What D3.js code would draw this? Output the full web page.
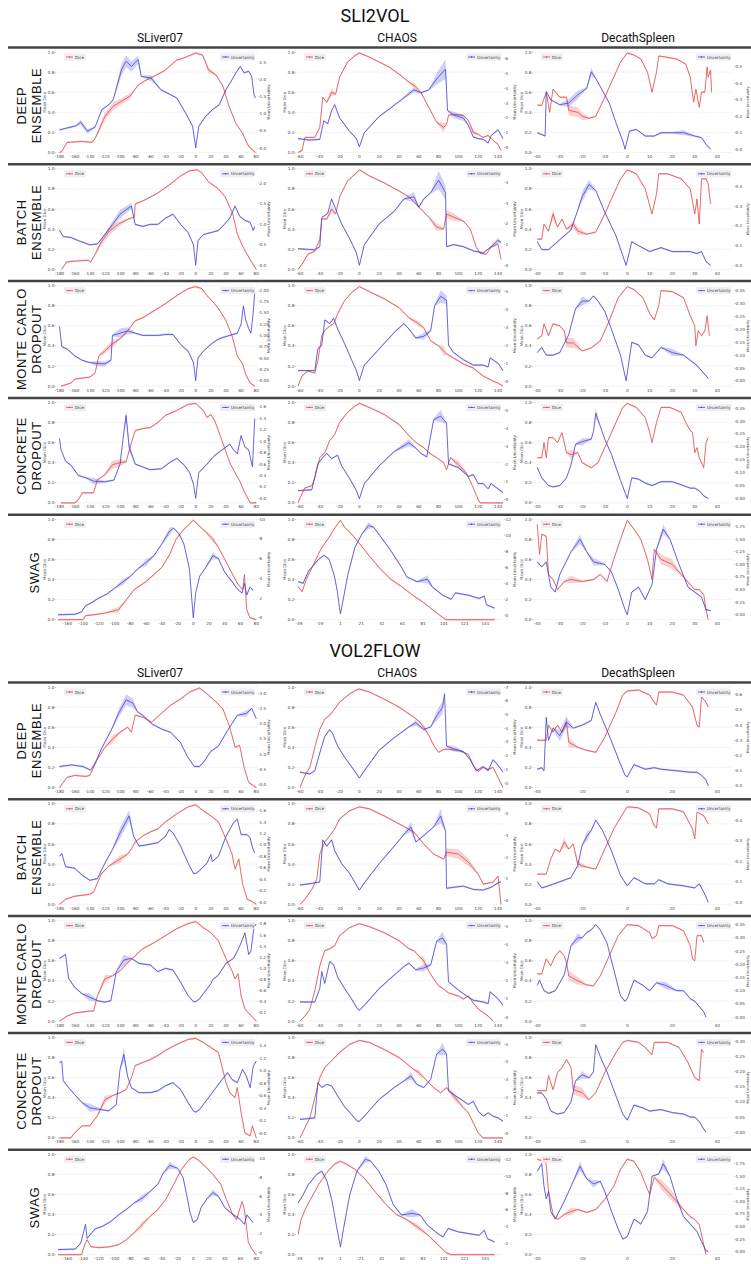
<!DOCTYPE html>
<meta charset="utf-8">
<style>
    body { margin: 0; background: #fff; }
    svg { display: block; }
</style>
<body>
<script src="https://d3js.org/d3.v7.min.js"></script>
<script>
// ---- labels ----
var sections = ["SLI2VOL", "VOL2FLOW"];
var datasets = ["SLiver07", "CHAOS", "DecathSpleen"];
var methods = [["DEEP", "ENSEMBLE"], ["BATCH", "ENSEMBLE"], ["MONTE CARLO", "DROPOUT"], ["CONCRETE", "DROPOUT"], ["SWAG"]];

// ---- x tick labels ----
var ticksSliver = [-180, -160, -140, -120, -100, -80, -60, -40, -20, 0, 20, 40, 60, 80];
var ticksSliverSwag = [-160, -140, -120, -100, -80, -60, -40, -20, 0, 20, 40, 60, 80];
var ticksChaos = [-60, -40, -20, 0, 20, 40, 60, 80, 100, 120, 140];
var ticksChaosSwag = [-39, -19, 1, 21, 41, 61, 81, 101, 121, 141];
var ticksSpleen10 = [-40, -30, -20, -10, 0, 10, 20, 30, 40];
var ticksSpleen20 = [-40, -20, 0, 20, 40];

// ---- right axis (uncertainty) limits and tick steps, rows x [SLiver07, CHAOS, DecathSpleen] ----
var uncLimitsS2V = [
    [[-0.13, 2.80], [-0.34, 6.46], [-0.02, 0.59]],
    [[-0.10, 2.36], [-0.19, 4.65], [-0.02, 0.49]],
    [[-0.12, 2.10], [-0.26, 5.30], [-0.02, 0.37]],
    [[-0.08, 1.68], [-0.19, 5.47], [-0.017, 0.372]],
    [[-0.2, 10.0], [-0.55, 12.0], [-0.10, 1.90]]
];
var uncLimitsV2F = [
    [[-0.10, 3.20], [-0.32, 7.0], [-0.01, 0.65]],
    [[-0.04, 1.72], [-0.19, 4.47], [-0.01, 0.48]],
    [[0.05, 1.86], [-0.22, 5.30], [-0.015, 0.365]],
    [[-0.07, 1.53], [-0.24, 5.37], [-0.019, 0.314]],
    [[-0.25, 10.5], [0.7, 12.6], [-0.06, 1.94]]
];
var uncStepsS2V = [[0.5, 1, 0.1], [0.5, 1, 0.1], [0.25, 1, 0.05], [0.2, 1, 0.05], [2, 2, 0.25]];
var uncStepsV2F = [[0.5, 1, 0.1], [0.2, 1, 0.1], [0.2, 1, 0.05], [0.2, 1, 0.05], [2, 2, 0.25]];

// ---- series: [slice, mean, half band] ----
// SLI2VOL
var s2v_de_sliver_dice = [[-180,0],[-177,0.01],[-170,0.10],[-150,0.11],[-137,0.10],[-133,0.14],[-128,0.22,0.02],[-120,0.36,0.03],[-109,0.46,0.03],[-98,0.51,0.02],[-87,0.56,0.02],[-81,0.62],[-76,0.67],[-68,0.71],[-55,0.76],[-42,0.81],[-25,0.92],[-16,0.94],[0,0.99],[9,0.97],[17,0.82,0.02],[27,0.77],[36,0.66],[44,0.46],[53,0.29],[62,0.19],[70,0.06],[79,0.0]];
var s2v_de_sliver_unc = [[-180,0.53],[-158,0.65],[-152,0.75,0.05],[-143,0.49,0.04],[-133,0.61],[-124,1.12],[-115,1.26],[-109,1.41],[-98,2.29,0.15],[-92,2.53,0.15],[-85,2.38,0.12],[-76,2.58,0.1],[-72,2.09],[-59,2.04,0.06],[-46,1.70],[-25,1.46],[-12,0.97],[-4,0.63],[0,0.0],[4,0.63],[13,0.92],[22,1.12],[31,1.26],[40,1.70],[48,1.99],[53,2.19],[59,2.38],[64,2.19],[70,2.24],[74,2.09],[77,1.56],[79,1.46]];
var s2v_de_chaos_dice = [[-62,0],[-58,0.02],[-55,0.15],[-45,0.15],[-40,0.25],[-37,0.55],[-33,0.50],[-28,0.60,0.03],[-24,0.58],[-20,0.75],[-12,0.90],[-5,0.96],[0,0.99],[10,0.95],[20,0.90],[30,0.85],[40,0.78],[50,0.70],[56,0.66,0.02],[62,0.60],[70,0.45],[78,0.30],[85,0.25,0.04],[88,0.28],[90,0.37],[95,0.38],[105,0.37],[110,0.32],[115,0.20,0.02],[120,0.18],[125,0.15],[130,0.17],[135,0.12],[140,0.08],[143,0.02]];
var s2v_de_chaos_unc = [[-62,0.6],[-50,0.5],[-40,0.55],[-36,1.8],[-32,1.6],[-28,2.5],[-25,2.9],[-20,2.0],[-10,1.1],[-3,0.6],[0,0.05],[5,1.0],[20,2.1],[40,3.1],[55,3.9,0.1],[62,3.7],[70,3.9],[80,4.8,0.4],[87,5.3,0.6],[89,2.5],[95,2.2,0.15],[105,2.0,0.15],[110,1.5],[115,0.7],[120,0.6],[125,0.55],[130,0.3],[133,0.8],[140,1.2],[145,0.6]];
var s2v_de_spleen_dice = [[-40,0.47],[-38,0.47],[-36,0.60],[-34.5,0.40],[-33,0.63],[-30,0.55],[-27,0.55],[-26,0.42,0.04],[-22,0.40,0.04],[-20,0.36,0.03],[-17,0.34],[-14,0.36],[-10,0.55],[-6,0.75],[-3,0.90],[0,0.99],[3,0.97],[6,0.93],[9,0.80],[11,0.60],[13,0.80],[14,0.96],[17,0.95],[22,0.93],[26,0.88],[28,0.75],[29.5,0.50],[30.5,0.63],[32,0.45],[33,0.60],[34.5,0.60],[35.5,0.85],[36,0.75],[37,0.82],[37.5,0.60]];
var s2v_de_spleen_unc = [[-40,0.10],[-36.5,0.08],[-36,0.35],[-34,0.30],[-30,0.27],[-26,0.28,0.02],[-22,0.33,0.02],[-18,0.37],[-16,0.47,0.02],[-14,0.43],[-12,0.38],[-8,0.28],[-5,0.16],[-2,0.05],[-1,0.0],[1,0.11],[4,0.12],[8,0.08],[12,0.08],[15,0.10],[20,0.10],[25,0.10,0.01],[30,0.08],[33,0.07],[35,0.03],[37,0.0]];

var s2v_be_sliver_dice = [[-177,0],[-171,0.07],[-164,0.08],[-142,0.09],[-139,0.07],[-133,0.15],[-124,0.28,0.03],[-114,0.38,0.03],[-102,0.45,0.02],[-89,0.50],[-81,0.52],[-80,0.65],[-70,0.68],[-52,0.75],[-33,0.85],[-20,0.93],[-8,0.98],[2,0.99],[8,0.96],[17,0.87],[30,0.80],[39,0.72],[49,0.55],[55,0.35],[64,0.20],[74,0.07],[80,0.0]];
var s2v_be_sliver_unc = [[-180,0.86],[-175,0.70],[-165,0.68],[-155,0.60],[-140,0.50],[-130,0.52],[-120,0.75],[-110,1.0,0.05],[-100,1.25,0.08],[-85,1.45,0.05],[-80,1.0],[-70,0.95],[-60,1.0],[-50,1.0],[-40,1.15],[-30,1.25],[-20,1.0],[-10,0.8],[-3,0.5],[0,0.0],[3,0.6],[10,0.75],[20,0.8],[30,0.85],[38,1.0],[45,1.15],[52,1.45],[58,1.2],[65,1.1],[72,1.05],[76,0.85],[78,0.95]];
var s2v_be_chaos_dice = [[-62,0],[-58,0.05],[-52,0.15],[-45,0.18],[-40,0.30],[-38,0.50],[-33,0.50],[-28,0.60,0.03],[-24,0.55],[-20,0.72],[-12,0.88],[-4,0.95],[0,0.99],[10,0.93],[25,0.86],[40,0.78],[50,0.72],[60,0.62],[70,0.52],[78,0.42,0.03],[85,0.40],[88,0.55,0.03],[95,0.52,0.03],[105,0.48],[112,0.40],[118,0.22],[122,0.16],[128,0.15],[133,0.22],[140,0.25],[143,0.10]];
var s2v_be_chaos_unc = [[-62,0.8],[-45,0.75],[-40,0.9],[-38,2.3],[-32,2.5],[-28,3.2],[-24,2.7],[-18,2.0],[-10,1.3],[-3,0.6],[0,0.0],[5,1.0],[20,2.0],[35,2.6],[45,3.2],[55,3.3,0.2],[60,2.8],[65,3.2],[72,3.5],[80,4.1,0.4],[87,3.5,0.3],[88,0.9],[95,1.0],[105,0.9],[115,0.7],[125,0.6],[133,0.9],[140,1.2,0.1],[143,1.1]];
var s2v_be_spleen_dice = [[-40,0.30],[-38,0.30],[-37,0.45],[-35,0.38],[-33,0.55,0.04],[-31,0.42],[-29,0.50],[-27,0.40],[-24,0.45,0.03],[-22,0.38,0.03],[-18,0.35],[-14,0.37],[-10,0.55],[-6,0.75],[-3,0.90],[0,0.99],[4,0.95],[8,0.80],[11,0.55],[13,0.75],[14,0.95],[18,0.95],[24,0.90],[28,0.80],[30,0.55],[31,0.70],[32,0.45],[33,0.90],[35,0.90],[36,0.85],[37,0.65]];
var s2v_be_spleen_unc = [[-40,0.12],[-38,0.08],[-35,0.08],[-30,0.13],[-25,0.18],[-22,0.28],[-20,0.35,0.02],[-17,0.41,0.02],[-14,0.38],[-10,0.27],[-5,0.15],[-2,0.05],[-0.5,0.0],[2,0.12],[5,0.10],[10,0.07],[15,0.09],[20,0.07],[25,0.07],[28,0.07],[31,0.06],[33,0.07],[35,0.02],[37,0.0]];

var s2v_mc_sliver_dice = [[-178,0],[-165,0.03],[-160,0.07],[-140,0.09],[-133,0.13],[-128,0.30],[-120,0.35,0.02],[-110,0.42,0.03],[-100,0.47],[-90,0.55],[-80,0.65],[-70,0.68],[-55,0.75],[-40,0.82],[-25,0.90],[-10,0.97],[0,0.99],[8,0.97],[15,0.90],[25,0.82],[32,0.75],[40,0.65],[48,0.50],[55,0.30],[62,0.22],[66,0.12],[72,0.03],[78,0.0]];
var s2v_mc_sliver_unc = [[-180,1.20],[-177,0.75],[-170,0.70],[-160,0.55],[-150,0.45],[-140,0.40],[-130,0.38,0.04],[-120,0.37,0.04],[-112,0.45],[-110,1.00],[-100,1.05,0.08],[-90,1.10,0.06],[-80,1.05],[-70,1.0],[-60,1.0],[-50,1.0],[-40,1.02],[-30,1.02],[-20,0.80],[-10,0.65],[-3,0.40],[0,0.0],[3,0.50],[10,0.65],[20,0.80],[28,0.90],[35,0.95],[45,1.00],[55,1.05],[60,1.25],[63,1.65],[66,1.35],[70,1.15],[73,1.05],[76,1.50],[78,1.95]];
var s2v_mc_chaos_dice = [[-62,0],[-58,0.10],[-52,0.15],[-45,0.13],[-42,0.25],[-38,0.50],[-35,0.55],[-30,0.60],[-26,0.62],[-22,0.72],[-15,0.85],[-8,0.93],[0,0.99],[10,0.94],[25,0.87],[40,0.78],[50,0.68],[60,0.62,0.02],[65,0.58],[72,0.45],[80,0.40],[85,0.35,0.04],[88,0.32],[95,0.28],[105,0.22],[115,0.18],[125,0.10],[135,0.05],[140,0.03],[145,0.0]];
var s2v_mc_chaos_unc = [[-62,0.6],[-45,0.6],[-42,1.8],[-38,2.0],[-35,3.4],[-30,3.2],[-26,3.5],[-22,2.9],[-15,2.1],[-8,1.2],[-3,0.6],[0,0.05],[5,0.9],[20,1.8],[35,2.7],[45,3.2],[50,2.9],[57,2.4],[65,2.5,0.15],[72,2.8],[76,4.2],[82,4.7,0.3],[88,4.5,0.2],[90,2.0],[95,1.6],[105,1.2],[115,0.9],[125,0.9],[130,0.8],[132,1.3],[140,1.0],[145,0.6]];
var s2v_mc_spleen_dice = [[-40,0.47],[-38,0.50],[-37,0.62],[-35,0.50],[-33,0.62],[-30,0.60],[-28,0.55],[-27,0.43,0.04],[-24,0.43,0.04],[-20,0.35],[-16,0.38],[-12,0.45],[-8,0.65],[-4,0.88],[0,0.99],[3,0.96],[7,0.88],[10,0.72],[12,0.66],[14,0.80],[15,0.95],[20,0.94],[25,0.88],[28,0.70],[30,0.60],[30.5,0.40],[31.5,0.55],[33,0.50],[34.5,0.55],[35.5,0.70],[36.5,0.50]];
var s2v_mc_spleen_unc = [[-40,0.11],[-38,0.13],[-36,0.10],[-33,0.10],[-30,0.11],[-26,0.18],[-23,0.28],[-20,0.31,0.015],[-17,0.31],[-15,0.33],[-13,0.31],[-10,0.27],[-7,0.20],[-3,0.10],[-0.5,0.0],[2,0.15],[5,0.14],[8,0.10],[11,0.09],[15,0.13],[20,0.11,0.01],[25,0.10],[28,0.08],[31,0.06],[34,0.03],[36,0.01]];

var s2v_cd_sliver_dice = [[-178,0],[-160,0],[-155,0.03],[-150,0.10],[-135,0.10],[-130,0.23],[-120,0.28],[-110,0.38,0.03],[-100,0.40,0.03],[-92,0.41],[-85,0.60],[-80,0.72],[-70,0.74],[-60,0.75],[-50,0.80],[-40,0.87],[-25,0.92],[-10,0.98],[0,0.99],[10,0.92],[15,0.85],[20,0.88],[25,0.82],[30,0.72],[38,0.55],[45,0.40],[52,0.30],[58,0.22],[65,0.10],[72,0.0],[80,0.0]];
var s2v_cd_sliver_unc = [[-180,1.05],[-178,0.85],[-172,0.65],[-165,0.58],[-155,0.40],[-145,0.36],[-135,0.30,0.04],[-120,0.29],[-108,0.32],[-100,0.60],[-95,1.15],[-92,1.45,0.1],[-88,0.90,0.06],[-80,0.60],[-70,0.55],[-60,0.50],[-45,0.52],[-35,0.62],[-25,0.70],[-15,0.58],[-8,0.45],[-3,0.25],[0,0.0],[4,0.45],[15,0.60],[25,0.75],[35,0.85],[45,0.95],[50,0.85],[55,0.78],[60,1.10],[65,0.90],[70,0.85],[75,0.55],[78,1.40]];
var s2v_cd_chaos_dice = [[-62,0],[-60,0.05],[-55,0.15],[-48,0.17],[-45,0.25],[-40,0.45],[-35,0.50],[-30,0.62],[-25,0.68],[-20,0.80],[-12,0.90],[-5,0.96],[0,0.99],[10,0.95],[25,0.88],[40,0.78],[50,0.67],[55,0.62],[60,0.58],[65,0.55],[70,0.50],[78,0.45],[85,0.40],[88,0.33],[92,0.45],[100,0.38,0.03],[108,0.30],[115,0.15],[120,0.03],[122,0.0],[145,0.0]];
var s2v_cd_chaos_unc = [[-62,0.5],[-48,0.55],[-42,2.0],[-38,2.3],[-33,2.6],[-28,2.3],[-22,2.5],[-18,1.9],[-10,1.2],[-3,0.5],[0,0.05],[5,0.9],[20,1.9],[35,2.7],[50,3.2,0.15],[57,2.9],[62,2.6],[68,2.4],[75,4.5],[82,4.7,0.3],[88,4.3],[90,2.0],[100,1.8],[110,1.3],[115,1.4],[120,0.9],[125,0.9],[130,0.6],[133,0.9],[140,0.6],[145,0.4]];
var s2v_cd_spleen_dice = [[-40,0.45],[-38,0.45],[-37,0.60],[-36,0.45],[-35,0.65],[-33,0.65],[-31,0.60],[-29,0.70],[-27,0.50],[-25,0.48,0.04],[-22,0.50],[-20,0.40],[-16,0.35],[-13,0.40],[-9,0.60],[-5,0.80],[-2,0.95],[0,0.99],[4,0.95],[8,0.85],[10,0.70],[11,0.60],[13,0.80],[15,0.95],[19,0.95],[24,0.90],[26,0.80],[28,0.72],[29,0.70],[30,0.50],[31,0.55],[32,0.45],[34,0.35],[35,0.60],[36,0.65]];
var s2v_cd_spleen_unc = [[-40,0.12],[-38,0.08],[-35,0.05],[-33,0.045],[-30,0.05],[-27,0.08],[-25,0.13],[-23,0.21],[-20,0.22,0.01],[-16,0.23],[-15,0.26],[-14,0.33,0.015],[-12,0.28],[-10,0.23],[-7,0.17],[-3,0.07],[0,0.0],[2,0.08],[5,0.075],[8,0.06],[11,0.05],[15,0.065],[20,0.065],[25,0.05],[28,0.04],[30,0.04],[32,0.03],[34,0.01],[36,0.0]];

var s2v_swag_sliver_dice = [[-172,0],[-140,0],[-137,0.04],[-125,0.05],[-110,0.07],[-95,0.10,0.02],[-85,0.20],[-75,0.30],[-60,0.38],[-50,0.45],[-40,0.52],[-30,0.65],[-22,0.80],[-12,0.90],[-5,0.95],[0,0.99],[8,0.93],[15,0.88],[25,0.80,0.02],[32,0.72],[40,0.60],[50,0.45],[57,0.35],[63,0.30],[65,0.45],[68,0.10],[72,0.02],[80,0.0]];
var s2v_swag_sliver_unc = [[-172,0.3],[-150,0.35],[-142,0.6],[-137,1.2],[-130,1.5],[-120,2.0],[-110,2.4],[-100,3.0],[-90,3.6,0.2],[-80,4.2],[-70,5.0],[-60,5.6,0.25],[-50,6.3],[-40,7.5],[-30,8.8,0.3],[-25,9.1],[-18,8.5],[-12,7.5],[-5,5.0],[-2,2.0],[0,0.0],[3,2.5],[8,4.2],[15,5.0],[25,6.3,0.25],[32,6.0],[40,4.6],[50,3.6],[55,3.0],[62,2.5],[65,3.5],[68,2.3],[72,3.1],[76,2.8]];
var s2v_swag_chaos_dice = [[-40,0.33],[-36,0.28],[-32,0.40],[-25,0.55],[-18,0.70],[-10,0.82],[-4,0.92],[1,0.99],[5,0.92],[12,0.85],[20,0.75],[30,0.62],[40,0.50],[50,0.40],[60,0.33],[70,0.25],[80,0.18],[90,0.10],[100,0.02],[103,0.0],[150,0.0]];
var s2v_swag_chaos_unc = [[-40,4.2],[-35,4.0],[-30,5.5],[-20,7.0],[-15,7.5],[-10,7.0],[-5,5.0],[-2,3.0],[0,1.0],[1,0.2],[3,1.5],[8,5.0],[15,8.5],[22,10.2],[28,11.2,0.3],[33,11.0],[40,9.8],[50,8.0],[60,6.0],[65,4.8],[75,4.2],[85,4.5,0.4],[90,3.5],[100,2.5],[108,2.0],[112,2.8],[125,2.5],[135,2.1],[140,2.4],[142,1.3],[150,0.9]];
var s2v_swag_spleen_dice = [[-40,0.95],[-39,0.65],[-38,0.85],[-36,0.83],[-35,0.45],[-33,0.40],[-31,0.30],[-28,0.38],[-25,0.40,0.03],[-20,0.38],[-15,0.40],[-12,0.45],[-9,0.38],[-6,0.60],[-3,0.80],[0,0.99],[3,0.90],[6,0.80],[9,0.60],[11,0.40],[12,0.70],[15,0.60,0.04],[20,0.55,0.04],[24,0.45],[28,0.35],[30,0.30],[32,0.30],[34,0.25],[35,0.10],[36,0.0]];
var s2v_swag_spleen_unc = [[-40,1.05],[-38,0.95],[-36,1.05],[-34,0.55],[-32,0.45],[-30,0.80],[-25,1.25],[-21,1.50,0.08],[-18,1.25],[-15,1.05,0.06],[-10,1.00],[-7,0.85],[-4,0.50],[-1,0.1],[0,0.0],[2,0.45],[5,0.55],[8,0.30],[11,0.60],[13,1.30],[16,1.70,0.08],[19,1.50],[23,1.00],[27,0.55],[30,0.45],[33,0.35],[35,0.10],[37,0.08]];

// VOL2FLOW
var v2f_de_sliver_dice = [[-180,0],[-175,0.05],[-170,0.10],[-160,0.12],[-145,0.11],[-140,0.12],[-130,0.28],[-120,0.40],[-110,0.48,0.03],[-100,0.55],[-90,0.60],[-85,0.55],[-80,0.72],[-70,0.70],[-58,0.65],[-48,0.72],[-33,0.82],[-20,0.88],[-8,0.95],[5,0.99],[17,0.92],[27,0.85],[36,0.78],[45,0.60],[52,0.40],[58,0.42],[64,0.20],[70,0.05],[76,0.02],[80,0.0]];
var v2f_de_sliver_unc = [[-180,0.59],[-164,0.64],[-149,0.59],[-139,0.47],[-133,0.70],[-124,1.2],[-111,1.82],[-102,2.33,0.1],[-92,2.78,0.15],[-83,2.67,0.12],[-77,2.39],[-70,2.27],[-58,1.99],[-45,1.82],[-33,1.71],[-20,1.37],[-11,0.92],[-2,0.59],[5,0.59],[11,0.75],[20,1.09],[30,1.26],[42,1.77],[55,2.27],[67,2.33,0.08],[74,2.5],[80,2.16]];
var v2f_de_chaos_dice = [[-60,0],[-55,0.12],[-50,0.20],[-45,0.40],[-40,0.58],[-35,0.68],[-30,0.72],[-25,0.78],[-20,0.85],[-10,0.93],[-3,0.97],[0,0.98],[10,0.95],[25,0.88],[40,0.80],[55,0.70],[60,0.66],[65,0.60,0.02],[70,0.52],[75,0.42],[80,0.35],[85,0.38],[90,0.38],[100,0.37],[110,0.33],[115,0.22],[120,0.16],[125,0.20],[130,0.18],[135,0.20],[140,0.10],[145,0.0]];
var v2f_de_chaos_unc = [[-60,0.8],[-50,0.67],[-45,0.9],[-40,2.2],[-35,3.4],[-30,3.9],[-27,3.6],[-22,2.7],[-15,1.9],[-5,0.9],[0,0.37],[5,0.9],[20,2.4],[35,3.3],[50,4.1],[57,4.4,0.15],[65,3.9],[72,4.1],[78,4.9,0.3],[84,5.5,0.4],[86,6.5],[88,2.7],[95,2.5,0.15],[105,2.3],[112,1.7],[118,0.9],[125,1.2],[130,0.9],[135,1.7],[140,1.3],[145,0.8]];
var v2f_de_spleen_dice = [[-40,0.47],[-36,0.47],[-35,0.62],[-33,0.55],[-31,0.62],[-29,0.55],[-27,0.65,0.04],[-26,0.45,0.04],[-22,0.40],[-18,0.37],[-14,0.35],[-10,0.50],[-5,0.75],[-2,0.92],[0,0.96],[5,0.97],[10,0.92],[11,0.88],[13,0.82],[14,0.95],[20,0.95],[25,0.92],[29,0.80],[31,0.62],[32,0.60],[33,0.90],[35,0.85],[36,0.80]];
var v2f_de_spleen_unc = [[-40,0.11],[-38,0.12],[-37,0.10],[-36,0.45],[-35,0.30],[-33,0.38],[-30,0.33,0.03],[-27,0.42,0.03],[-24,0.38],[-20,0.40],[-16,0.43],[-14,0.55],[-12,0.47],[-8,0.33],[-4,0.18],[-1,0.07],[0,0.06],[3,0.14],[8,0.11],[12,0.12],[15,0.11],[22,0.10],[28,0.09],[31,0.09],[33,0.07],[35,0.04],[36,0.0]];

var v2f_be_sliver_dice = [[-180,0],[-172,0.05],[-160,0.08],[-140,0.10],[-135,0.12],[-125,0.30],[-115,0.38],[-100,0.45,0.03],[-90,0.50],[-85,0.55],[-80,0.62],[-70,0.68],[-60,0.72],[-50,0.75],[-40,0.82],[-25,0.90],[-10,0.97],[0,0.99],[10,0.93],[20,0.88],[30,0.82],[40,0.65],[48,0.50],[52,0.35],[57,0.45],[62,0.20],[68,0.05],[74,0.03],[80,0.0]];
var v2f_be_sliver_unc = [[-180,0.80],[-177,0.85],[-172,0.62],[-160,0.59],[-150,0.47],[-140,0.38],[-130,0.41],[-120,0.68],[-110,0.92],[-100,1.21,0.08],[-88,1.51,0.08],[-82,1.15],[-75,0.98],[-65,1.0],[-50,1.04],[-40,1.15],[-35,1.27],[-30,1.21],[-20,0.98],[-10,0.68],[-3,0.50],[0,0.50],[5,0.55],[15,0.68],[20,0.83],[22,0.71],[30,0.80],[40,1.15],[50,1.39],[55,1.45],[60,1.18],[68,1.18],[72,1.12],[75,0.95],[78,0.86]];
var v2f_be_chaos_dice = [[-60,0],[-55,0.05],[-48,0.15],[-43,0.25],[-40,0.50],[-35,0.62],[-30,0.68],[-25,0.75],[-20,0.85],[-10,0.93],[0,0.97],[10,0.95],[25,0.88],[40,0.80],[55,0.72],[65,0.60],[75,0.50],[85,0.45],[88,0.52,0.03],[100,0.50,0.04],[110,0.42,0.03],[120,0.30],[125,0.20],[135,0.22],[140,0.28],[143,0.0]];
var v2f_be_chaos_unc = [[-60,0.7],[-45,0.8],[-40,0.85],[-37,2.8],[-33,2.5],[-28,2.8],[-25,2.3],[-18,1.7],[-10,1.25],[-3,0.7],[0,0.47],[5,0.8],[20,1.7],[35,2.5],[45,3.05],[52,3.4,0.2],[57,2.7],[65,3.0],[75,3.4],[82,3.9,0.3],[87,3.2],[88,0.55],[95,0.6],[105,0.65],[115,0.5],[125,0.47],[133,0.6],[140,0.8],[143,0.85]];
var v2f_be_spleen_dice = [[-40,0.30],[-36,0.30],[-34,0.45],[-32,0.55],[-30,0.52],[-28,0.62,0.04],[-26,0.55],[-24,0.60],[-22,0.40,0.03],[-18,0.37],[-14,0.35],[-10,0.55],[-6,0.75],[-2,0.90],[0,0.97],[5,0.96],[10,0.90],[12,0.78],[13,0.76],[14,0.95],[20,0.95],[25,0.92],[29,0.75],[30,0.65],[31,0.92],[34,0.88],[36,0.80]];
var v2f_be_spleen_unc = [[-40,0.10],[-38,0.07],[-35,0.08],[-30,0.10],[-25,0.12],[-22,0.18],[-20,0.28],[-18,0.32,0.02],[-16,0.35],[-14,0.40],[-11,0.35],[-7,0.25],[-3,0.13],[0,0.08],[3,0.12],[8,0.09],[12,0.09],[14,0.11],[18,0.09],[25,0.08],[30,0.07],[32,0.09],[34,0.05],[36,0.0]];

var v2f_mc_sliver_dice = [[-180,0],[-170,0.05],[-160,0.08],[-140,0.10],[-135,0.10],[-130,0.25],[-120,0.42,0.03],[-110,0.45],[-100,0.50],[-90,0.58],[-80,0.65],[-70,0.72],[-55,0.78],[-40,0.85],[-25,0.92],[-10,0.97],[0,0.99],[10,0.93],[20,0.88],[30,0.80],[40,0.62],[48,0.50],[52,0.42],[56,0.47],[60,0.25],[65,0.12],[70,0.08],[75,0.04],[80,0.0]];
var v2f_mc_sliver_unc = [[-180,1.18],[-172,1.25],[-168,0.82],[-160,0.66],[-150,0.54],[-140,0.48,0.05],[-130,0.42],[-120,0.39],[-112,0.42],[-105,0.94],[-95,1.15,0.08],[-85,1.18],[-75,1.09],[-60,1.06],[-50,0.94],[-40,1.0],[-30,0.97],[-20,0.75],[-10,0.51],[-3,0.40],[0,0.40],[5,0.45],[15,0.63],[20,0.72],[22,0.79],[30,0.88],[40,1.09],[50,1.18],[55,1.31],[60,1.46],[65,1.64],[70,1.25],[73,1.31],[77,1.74],[80,1.80]];
var v2f_mc_chaos_dice = [[-60,0],[-55,0.05],[-50,0.12],[-45,0.30],[-40,0.55],[-35,0.70],[-30,0.72],[-25,0.75],[-20,0.85],[-10,0.93],[0,0.97],[10,0.94],[25,0.88],[40,0.80],[50,0.72],[55,0.70],[60,0.65],[65,0.60,0.03],[70,0.50],[75,0.42],[80,0.35],[85,0.32],[90,0.28],[100,0.25],[105,0.22],[110,0.25],[115,0.18],[120,0.12],[130,0.05],[135,0.0]];
var v2f_mc_chaos_unc = [[-60,0.83],[-45,0.83],[-40,1.57],[-38,2.5],[-35,1.85],[-30,3.05],[-26,2.87],[-22,2.2],[-15,1.57],[-8,1.0],[-2,0.46],[0,0.37],[5,0.65],[20,1.57],[35,2.3],[45,2.78],[50,2.96],[57,2.6],[65,2.7,0.15],[72,2.87],[78,4.17],[84,4.35,0.3],[88,4.0],[90,1.94],[100,1.48],[110,1.1],[115,0.93],[125,0.83],[130,0.74],[132,1.39],[140,1.0],[145,0.65]];
var v2f_mc_spleen_dice = [[-40,0.47],[-38,0.47],[-36,0.62],[-34,0.55],[-32,0.65],[-30,0.70],[-28,0.65],[-27,0.58],[-26,0.45,0.04],[-22,0.40,0.03],[-18,0.36],[-15,0.35],[-12,0.45],[-8,0.65],[-4,0.85],[0,0.96],[5,0.95],[10,0.88],[11,0.82],[13,0.85],[14,0.95],[20,0.95],[25,0.90],[28,0.75],[29,0.62],[30,0.60],[31,0.85],[33,0.85],[34,0.78]];
var v2f_mc_spleen_unc = [[-40,0.12],[-39,0.14],[-37,0.10],[-35,0.09],[-32,0.10],[-28,0.16],[-25,0.27],[-22,0.30,0.015],[-20,0.30],[-18,0.32],[-16,0.33],[-14,0.35],[-12,0.33],[-9,0.28],[-6,0.18],[-3,0.08],[-1,0.06],[0,0.07],[3,0.14],[7,0.12],[10,0.10],[13,0.13],[17,0.12,0.01],[22,0.10],[25,0.10],[28,0.07],[30,0.06],[32,0.04],[34,0.02],[35,0.0]];

var v2f_cd_sliver_dice = [[-180,0],[-165,0],[-160,0.05],[-150,0.12],[-140,0.12],[-130,0.22],[-120,0.38,0.03],[-110,0.42],[-100,0.45],[-92,0.48],[-85,0.60],[-80,0.72],[-70,0.75],[-60,0.78],[-50,0.82],[-40,0.87],[-25,0.93],[-10,0.98],[0,0.99],[10,0.95],[20,0.90],[30,0.85],[40,0.55],[45,0.45],[52,0.40],[55,0.50],[60,0.25],[65,0.05],[72,0.02],[75,0.12],[80,0.0]];
var v2f_cd_sliver_unc = [[-180,1.13],[-177,1.15],[-175,0.84],[-170,0.76],[-160,0.62],[-150,0.49],[-140,0.41,0.05],[-125,0.38],[-115,0.36],[-105,0.46],[-100,1.02],[-95,1.26,0.1],[-90,0.91],[-85,0.73],[-75,0.65],[-60,0.65],[-50,0.68],[-40,0.76],[-30,0.81],[-20,0.70],[-10,0.49],[-3,0.36],[0,0.34],[5,0.38],[15,0.54],[25,0.70],[35,0.86],[42,0.97],[48,0.86],[55,0.81],[62,1.02],[67,0.91],[72,0.73],[76,1.07],[80,1.15]];
var v2f_cd_chaos_dice = [[-60,0],[-55,0.10],[-50,0.20],[-45,0.40],[-40,0.60],[-35,0.70],[-30,0.75],[-25,0.80],[-20,0.85],[-10,0.93],[0,0.97],[10,0.95],[25,0.88],[40,0.80],[50,0.72],[55,0.68],[60,0.65,0.02],[65,0.60],[75,0.50],[82,0.45],[88,0.50],[95,0.42,0.03],[105,0.30],[110,0.25],[115,0.15],[120,0.05],[125,0.0],[145,0.0]];
var v2f_cd_chaos_unc = [[-60,0.79],[-45,0.88],[-42,2.85],[-38,2.57],[-33,2.75],[-28,2.66],[-22,2.1],[-15,1.5],[-8,1.07],[-2,0.69],[0,0.69],[5,0.97],[20,1.91],[35,2.57],[45,2.94],[52,3.22,0.15],[58,2.75],[65,2.57],[72,3.03],[78,4.44],[84,4.72,0.3],[88,4.44],[90,2.38],[100,2.0],[110,1.63],[115,1.8],[120,1.25],[125,0.97],[130,1.16],[135,0.97],[140,0.88],[145,0.69]];
var v2f_cd_spleen_dice = [[-40,0.47],[-36,0.47],[-35,0.62],[-33,0.48],[-31,0.65],[-29,0.70],[-27,0.78],[-25,0.70],[-24,0.48,0.04],[-20,0.45,0.04],[-17,0.38],[-14,0.45],[-10,0.65],[-5,0.85],[-2,0.95],[0,0.97],[5,0.95],[8,0.90],[10,0.85],[11,0.83],[12,0.95],[18,0.95],[23,0.90],[27,0.75],[30,0.60],[32,0.57],[33,0.88],[34,0.85]];
var v2f_cd_spleen_unc = [[-40,0.13],[-38,0.13],[-36,0.11],[-34,0.07],[-31,0.06],[-28,0.065],[-25,0.10],[-23,0.17],[-20,0.19,0.01],[-17,0.18],[-15,0.20],[-14,0.29],[-12,0.25],[-9,0.20],[-5,0.12],[-2,0.06],[0,0.04],[3,0.09],[7,0.08],[10,0.07],[15,0.075],[20,0.065],[25,0.06],[28,0.05],[30,0.05],[32,0.035],[34,0.01],[35,0.0]];

var v2f_swag_sliver_dice = [[-172,0],[-142,0],[-138,0.10],[-135,0.15],[-130,0.08],[-120,0.07],[-105,0.08],[-95,0.10],[-85,0.15],[-75,0.22],[-65,0.30,0.02],[-55,0.38],[-45,0.45],[-35,0.55],[-25,0.70],[-15,0.85],[-5,0.95],[0,0.97],[5,0.95],[15,0.88],[25,0.80],[35,0.70],[42,0.55],[50,0.40],[55,0.35],[62,0.53],[65,0.45],[70,0.12],[75,0.05],[80,0.0]];
var v2f_swag_sliver_unc = [[-172,0.3],[-150,0.35],[-143,1.0],[-140,2.0],[-137,3.0],[-135,1.5],[-125,2.5],[-115,2.8],[-105,3.3],[-95,4.0],[-85,4.6],[-75,5.3],[-65,5.8,0.25],[-55,6.5],[-45,7.3],[-38,8.5],[-30,9.3,0.3],[-20,9.0],[-13,8.0],[-8,6.0],[-4,4.2],[0,3.2],[5,3.5],[10,4.8],[18,5.8],[25,6.4,0.25],[32,6.0],[40,4.8],[48,4.2],[55,3.8],[60,3.5],[65,3.0],[68,4.0],[72,3.6],[76,3.2]];
var v2f_swag_chaos_dice = [[-40,0.20],[-37,0.35],[-33,0.45],[-28,0.55],[-20,0.70],[-12,0.82],[-5,0.90],[1,0.93],[7,0.90],[15,0.85],[25,0.75],[35,0.62],[45,0.50],[55,0.40],[65,0.35],[75,0.28,0.02],[85,0.20],[95,0.10],[103,0.02],[108,0.0],[150,0.0]];
var v2f_swag_chaos_unc = [[-40,6.8],[-35,7.8],[-30,9.0],[-22,10.2],[-17,10.6],[-12,9.4],[-7,7.0],[-3,4.2],[1,1.6],[4,3.8],[10,7.8],[17,10.6],[25,12.0,0.3],[30,11.8],[38,10.6],[45,9.0],[52,6.6],[60,5.4],[70,5.6,0.4],[78,5.4],[85,4.2],[95,3.2],[100,2.8],[105,3.8],[115,3.4],[125,3.2],[135,3.0],[140,3.6],[143,2.6],[150,2.2]];
var v2f_swag_spleen_dice = [[-40,0.95],[-37,0.93],[-36,0.90],[-35,0.63],[-33,0.40],[-31,0.35],[-28,0.40],[-25,0.43,0.03],[-22,0.45],[-18,0.42],[-14,0.45],[-10,0.55],[-6,0.68],[-3,0.85],[0,0.95],[3,0.93],[6,0.82],[9,0.65],[10,0.60],[12,0.77],[15,0.70,0.04],[20,0.58,0.04],[25,0.45],[28,0.38],[30,0.35],[32,0.30],[34,0.10],[35,0.0]];
var v2f_swag_spleen_unc = [[-40,1.60],[-38,1.75],[-37,1.30],[-36,1.05],[-35,1.20],[-34,0.80],[-32,0.65],[-28,1.00],[-24,1.40],[-21,1.70,0.08],[-18,1.45],[-15,1.35,0.06],[-12,1.40],[-10,1.20],[-7,0.80],[-4,0.45],[-2,0.25],[0,0.30],[3,0.65],[6,0.55],[9,0.80],[11,1.50],[14,1.55],[16,1.75,0.08],[19,1.50],[22,1.05],[25,0.70],[28,0.55],[31,0.40],[33,0.20],[35,0.02],[36,0.0]];

// ---- grid of panels [section][method][dataset] -> [dice, uncertainty] ----
var seriesGrid = [
    [
        [[s2v_de_sliver_dice, s2v_de_sliver_unc], [s2v_de_chaos_dice, s2v_de_chaos_unc], [s2v_de_spleen_dice, s2v_de_spleen_unc]],
        [[s2v_be_sliver_dice, s2v_be_sliver_unc], [s2v_be_chaos_dice, s2v_be_chaos_unc], [s2v_be_spleen_dice, s2v_be_spleen_unc]],
        [[s2v_mc_sliver_dice, s2v_mc_sliver_unc], [s2v_mc_chaos_dice, s2v_mc_chaos_unc], [s2v_mc_spleen_dice, s2v_mc_spleen_unc]],
        [[s2v_cd_sliver_dice, s2v_cd_sliver_unc], [s2v_cd_chaos_dice, s2v_cd_chaos_unc], [s2v_cd_spleen_dice, s2v_cd_spleen_unc]],
        [[s2v_swag_sliver_dice, s2v_swag_sliver_unc], [s2v_swag_chaos_dice, s2v_swag_chaos_unc], [s2v_swag_spleen_dice, s2v_swag_spleen_unc]]
    ],
    [
        [[v2f_de_sliver_dice, v2f_de_sliver_unc], [v2f_de_chaos_dice, v2f_de_chaos_unc], [v2f_de_spleen_dice, v2f_de_spleen_unc]],
        [[v2f_be_sliver_dice, v2f_be_sliver_unc], [v2f_be_chaos_dice, v2f_be_chaos_unc], [v2f_be_spleen_dice, v2f_be_spleen_unc]],
        [[v2f_mc_sliver_dice, v2f_mc_sliver_unc], [v2f_mc_chaos_dice, v2f_mc_chaos_unc], [v2f_mc_spleen_dice, v2f_mc_spleen_unc]],
        [[v2f_cd_sliver_dice, v2f_cd_sliver_unc], [v2f_cd_chaos_dice, v2f_cd_chaos_unc], [v2f_cd_spleen_dice, v2f_cd_spleen_unc]],
        [[v2f_swag_sliver_dice, v2f_swag_sliver_unc], [v2f_swag_chaos_dice, v2f_swag_chaos_unc], [v2f_swag_spleen_dice, v2f_swag_spleen_unc]]
    ]
];
var uncLimits = [uncLimitsS2V, uncLimitsV2F];
var uncSteps = [uncStepsS2V, uncStepsV2F];

// ---- layout ----
var width = 751, height = 1264;
var colRange = [[58, 257], [298, 503], [535, 733]];
var colCenter = [160, 397, 638];
var sectionOffset = 635, rowStep = 116.8;

var red = "#e34a4a", blue = "#4545d6";

function xDomainFor(ci, ri) {
    if (ci === 0) return ri === 4 ? [-172, 81] : [-182, 81];
    if (ci === 1) return ri === 4 ? [-40, 158] : [-62, 145];
    return [-41, 47];
}
function xTicksFor(si, ci, ri) {
    if (ci === 0) return ri === 4 ? ticksSliverSwag : ticksSliver;
    if (ci === 1) return ri === 4 ? ticksChaosSwag : ticksChaos;
    return si === 0 ? ticksSpleen10 : ticksSpleen20;
}
function decimals(step) {
    if (step >= 1) return 0;
    if (Math.abs(step * 10 - Math.round(step * 10)) < 1e-9) return 1;
    return 2;
}

var svg = d3.select("body").append("svg")
    .attr("width", width)
    .attr("height", height)
    .style("font-family", "'DejaVu Sans', sans-serif");

function drawPanel(g, si, ri, ci, top, bottom) {
    var x0 = colRange[ci][0], x1 = colRange[ci][1];
    var x = d3.scaleLinear().domain(xDomainFor(ci, ri)).range([x0, x1]);
    var yD = d3.scaleLinear().domain([0, 1]).range([bottom, top]);
    var yU = d3.scaleLinear().domain(uncLimits[si][ri][ci]).range([bottom, top]);
    var pair = seriesGrid[si][ri][ci];

    // grid
    var dTicks = [0, 0.2, 0.4, 0.6, 0.8, 1.0];
    g.selectAll(".grid").data(dTicks).enter().append("line")
        .attr("x1", x0).attr("x2", x1)
        .attr("y1", function (d) { return yD(d); })
        .attr("y2", function (d) { return yD(d); })
        .attr("stroke", "#cfcfcf").attr("stroke-width", 0.5)
        .attr("stroke-dasharray", "1,1.2");

    var small = 4.2;
    // left ticks
    g.selectAll(".lt").data(dTicks).enter().append("text")
        .attr("x", x0 - 2).attr("y", function (d) { return yD(d) + 1.5; })
        .attr("text-anchor", "end").attr("font-size", small).attr("fill", "#444")
        .text(function (d) { return d3.format(".1f")(d) + "-"; });

    // right ticks
    var st = uncSteps[si][ri][ci], lim = uncLimits[si][ri][ci];
    var rTicks = [];
    for (var v = Math.ceil(lim[0] / st - 1e-9) * st; v <= lim[1] + 1e-9; v += st) rTicks.push(+v.toFixed(4));
    var fmt = d3.format("." + decimals(st) + "f");
    g.selectAll(".rt").data(rTicks).enter().append("text")
        .attr("x", x1 + 1).attr("y", function (d) { return yU(d) + 1.5; })
        .attr("text-anchor", "start").attr("font-size", small).attr("fill", "#444")
        .text(function (d) { return "-" + fmt(d); });

    // x ticks
    g.selectAll(".xt").data(xTicksFor(si, ci, ri)).enter().append("text")
        .attr("x", function (d) { return x(d); }).attr("y", bottom + 5.5)
        .attr("text-anchor", "middle").attr("font-size", small).attr("fill", "#444")
        .text(function (d) { return d; });

    // axis titles
    g.append("text")
        .attr("transform", "translate(" + (x0 - 12) + "," + ((top + bottom) / 2) + ") rotate(-90)")
        .attr("text-anchor", "middle").attr("font-size", 4).attr("fill", "#444")
        .text("Mean Dice");
    g.append("text")
        .attr("transform", "translate(" + (ci === 2 ? 749 : x1 + 13) + "," + ((top + bottom) / 2) + ") rotate(-90)")
        .attr("text-anchor", "middle").attr("font-size", ci === 2 ? 3.6 : 4).attr("fill", "#444")
        .text("Mean Uncertainty");

    function band(ys) {
        return d3.area()
            .x(function (d) { return x(d[0]); })
            .y0(function (d) { return ys(d[1] - (d[2] || 0)) + 0.9; })
            .y1(function (d) { return ys(d[1] + (d[2] || 0)) - 0.9; });
    }
    function mean(ys) {
        return d3.line()
            .x(function (d) { return x(d[0]); })
            .y(function (d) { return ys(d[1]); });
    }

    g.append("path").datum(pair[0]).attr("d", band(yD))
        .attr("fill", red).attr("fill-opacity", 0.25);
    g.append("path").datum(pair[0]).attr("d", mean(yD))
        .attr("fill", "none").attr("stroke", red).attr("stroke-width", 0.8);
    g.append("path").datum(pair[1]).attr("d", band(yU))
        .attr("fill", blue).attr("fill-opacity", 0.25);
    g.append("path").datum(pair[1]).attr("d", mean(yU))
        .attr("fill", "none").attr("stroke", blue).attr("stroke-width", 0.8);

    // legends
    function legend(lx, label, color, w) {
        var lg = g.append("g").attr("transform", "translate(" + lx + "," + (top + 1.5) + ")");
        lg.append("rect").attr("width", w).attr("height", 7).attr("rx", 1)
            .attr("fill", "#ebebf1").attr("fill-opacity", 0.9);
        lg.append("line").attr("x1", 2).attr("x2", 9).attr("y1", 3.5).attr("y2", 3.5)
            .attr("stroke", color).attr("stroke-width", 0.8);
        lg.append("circle").attr("cx", 5.5).attr("cy", 3.5).attr("r", 0.7).attr("fill", color);
        lg.append("text").attr("x", 11).attr("y", 5).attr("font-size", 4).attr("fill", "#444").text(label);
    }
    legend(x0 + 6, "Dice", red, 22);
    legend(x1 - 37, "Uncertainty", blue, 35);
}

sections.forEach(function (sec, si) {
    var off = si * sectionOffset;
    svg.append("text")
        .attr("x", 375).attr("y", off + 22)
        .attr("text-anchor", "middle")
        .attr("font-family", "Roboto, sans-serif")
        .attr("font-size", 18).attr("fill", "#111")
        .text(sec);
    datasets.forEach(function (d, ci) {
        svg.append("text")
            .attr("x", colCenter[ci]).attr("y", off + 42)
            .attr("text-anchor", "middle")
            .attr("font-family", "Roboto, sans-serif")
            .attr("font-size", 12).attr("fill", "#111")
            .text(d);
    });

    methods.forEach(function (m, ri) {
        var sep = off + 47.5 + ri * rowStep;
        svg.append("line")
            .attr("x1", 8).attr("x2", width)
            .attr("y1", sep).attr("y2", sep)
            .attr("stroke", "#444").attr("stroke-width", 2.5);

        var cy = sep + 58;
        var lab = svg.append("text")
            .attr("transform", "translate(" + (m.length === 1 ? 34 : 28) + "," + cy + ") rotate(-90)")
            .attr("text-anchor", "middle")
            .attr("font-family", "'Liberation Sans', Arial, sans-serif")
            .attr("font-size", 13).attr("letter-spacing", 0.6).attr("fill", "#111");
        m.forEach(function (line, li) {
            lab.append("tspan")
                .attr("x", 0)
                .attr("dy", li === 0 ? (m.length === 1 ? 4.5 : -2) : 14.5)
                .text(line);
        });

        var top = sep + 4.5, bottom = sep + 105;
        datasets.forEach(function (d, ci) {
            drawPanel(svg.append("g"), si, ri, ci, top, bottom);
        });
    });
});
</script>
</body>
